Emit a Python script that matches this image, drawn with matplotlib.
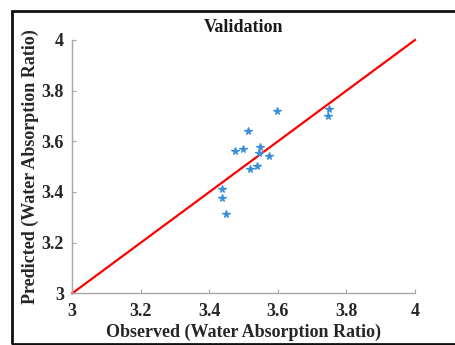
import matplotlib
matplotlib.use("Agg")
import matplotlib.pyplot as plt
from matplotlib.patches import Rectangle

observed = [3.598, 3.750, 3.745, 3.514, 3.476, 3.498, 3.549, 3.544, 3.574, 3.538, 3.519, 3.438, 3.438, 3.449]
predicted = [3.721, 3.726, 3.700, 3.642, 3.562, 3.571, 3.576, 3.553, 3.543, 3.504, 3.491, 3.412, 3.377, 3.314]
line_x = [3, 4]
line_y = [3, 4]
ticks = [3, 3.2, 3.4, 3.6, 3.8, 4]
tick_labels = ["3", "3.2", "3.4", "3.6", "3.8", "4"]

plt.rcParams['font.family'] = ['Liberation Serif', 'DejaVu Serif']
plt.rcParams['font.weight'] = 'bold'

fig = plt.figure(figsize=(4.55, 3.45), dpi=100)
ax = fig.add_axes([0.1589, 0.1499, 0.7532, 0.7342])

ax.plot(line_x, line_y, color='#ff0000', lw=1.6, zorder=2, clip_on=False)
ax.plot(observed, predicted, linestyle='none', marker='*', color='#3b8fd6', markersize=5.5, markeredgewidth=0.9, zorder=3)

ax.set_xlim(3, 4)
ax.set_ylim(3, 4)
ax.set_xticks(ticks)
ax.set_xticklabels(tick_labels)
ax.set_yticks(ticks)
ax.set_yticklabels(tick_labels)
for s in ['top', 'right']:
    ax.spines[s].set_visible(False)
for s in ['left', 'bottom']:
    ax.spines[s].set_color('#a6a6a6')
    ax.spines[s].set_linewidth(1.0)
ax.tick_params(direction='in', length=3, width=0.8, color='#a6a6a6', labelsize=13, labelcolor='#262626')
ax.tick_params(axis='x', pad=7)
ax.tick_params(axis='y', pad=6)
for lab in ax.get_xticklabels() + ax.get_yticklabels():
    lab.set_fontweight('bold')

ax.set_title('Validation', fontsize=13, fontweight='bold', color='#1a1a1a', pad=6)
ax.set_xlabel('Observed (Water Absorption Ratio)', fontsize=13, fontweight='bold', color='#262626', labelpad=3)
ax.set_ylabel('Predicted (Water Absorption Ratio)', fontsize=13, fontweight='bold', color='#262626', labelpad=2)

fig.patches.append(Rectangle((0.027, 0.003), 1.0, 0.965, transform=fig.transFigure,
                             fill=False, edgecolor='#111111', lw=2.0, zorder=10))

fig.savefig('out.png', dpi=100)
